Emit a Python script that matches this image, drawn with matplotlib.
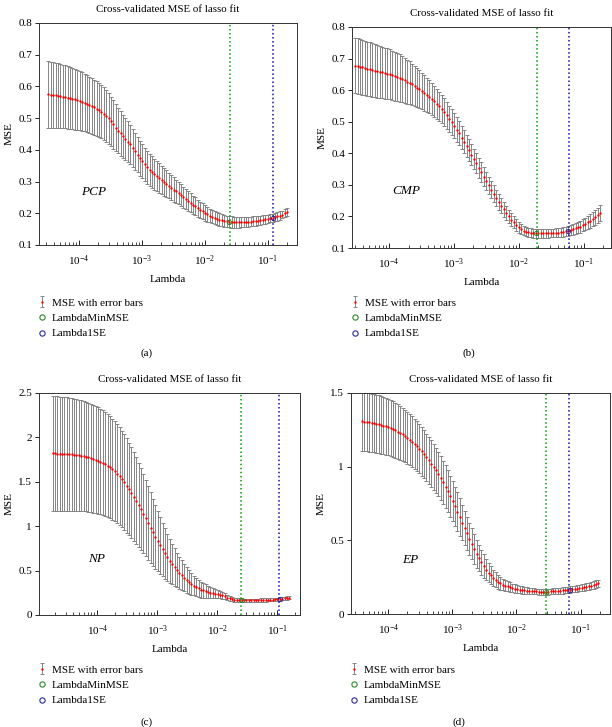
import matplotlib.pyplot as plt
import numpy as np
from matplotlib.ticker import LogLocator, FuncFormatter, NullFormatter, FixedLocator
from matplotlib.lines import Line2D

plt.rcParams['font.family'] = ['Liberation Serif', 'DejaVu Serif']
plt.rcParams['mathtext.fontset'] = 'stix'
plt.rcParams['font.size'] = 8

# ---- data ----
names = ['PCP', 'CMP', 'NP', 'EP']
captions = ['(a)', '(b)', '(c)', '(d)']
# lasso lambda grid: first / last lambda, 100 values each (geometric grid)
lambda_first = [3.3e-5, 3.0e-5, 1.8e-5, 3.9e-5]
lambda_last = [0.20, 0.18, 0.16, 0.19]
n_lambda = 100
lambda_min_mse = [0.025, 0.019, 0.025, 0.029]
lambda_1se = [0.12, 0.059, 0.108, 0.067]

mse_pcp = [0.575, 0.574, 0.573, 0.572, 0.571, 0.570, 0.568, 0.567, 0.565, 0.563,
           0.561, 0.559, 0.557, 0.555, 0.552, 0.549, 0.546, 0.542, 0.538, 0.534,
           0.530, 0.525, 0.520, 0.514, 0.507, 0.499, 0.490, 0.480, 0.470, 0.461,
           0.452, 0.443, 0.434, 0.426, 0.417, 0.407, 0.396, 0.385, 0.374, 0.364,
           0.354, 0.345, 0.337, 0.330, 0.323, 0.317, 0.311, 0.305, 0.299, 0.293,
           0.287, 0.281, 0.275, 0.269, 0.263, 0.257, 0.251, 0.245, 0.239, 0.233,
           0.227, 0.222, 0.216, 0.211, 0.206, 0.201, 0.197, 0.193, 0.189, 0.186,
           0.183, 0.180, 0.178, 0.176, 0.175, 0.174, 0.173, 0.172, 0.172, 0.172,
           0.172, 0.172, 0.173, 0.173, 0.174, 0.175, 0.176, 0.177, 0.178, 0.180,
           0.181, 0.183, 0.184, 0.186, 0.188, 0.190, 0.193, 0.196, 0.200, 0.205]
se_pcp = [0.105, 0.104, 0.104, 0.103, 0.102, 0.101, 0.100, 0.099, 0.098, 0.097,
          0.096, 0.095, 0.094, 0.093, 0.092, 0.091, 0.090, 0.089, 0.088, 0.087,
          0.086, 0.085, 0.084, 0.083, 0.082, 0.080, 0.078, 0.076, 0.074, 0.072,
          0.070, 0.068, 0.066, 0.064, 0.062, 0.060, 0.058, 0.056, 0.055, 0.054,
          0.053, 0.052, 0.051, 0.050, 0.049, 0.048, 0.046, 0.045, 0.043, 0.042,
          0.040, 0.039, 0.038, 0.036, 0.035, 0.034, 0.033, 0.032, 0.031, 0.030,
          0.029, 0.028, 0.027, 0.026, 0.025, 0.024, 0.023, 0.022, 0.021, 0.021,
          0.020, 0.020, 0.019, 0.019, 0.018, 0.018, 0.018, 0.017, 0.017, 0.017,
          0.016, 0.016, 0.016, 0.015, 0.015, 0.015, 0.015, 0.014, 0.014, 0.014,
          0.014, 0.013, 0.013, 0.013, 0.013, 0.013, 0.013, 0.012, 0.012, 0.012]

mse_cmp = [0.678, 0.676, 0.674, 0.672, 0.670, 0.668, 0.666, 0.664, 0.662, 0.660,
           0.658, 0.656, 0.654, 0.652, 0.650, 0.647, 0.644, 0.641, 0.638, 0.635,
           0.631, 0.627, 0.623, 0.618, 0.613, 0.608, 0.603, 0.597, 0.591, 0.585,
           0.579, 0.572, 0.565, 0.557, 0.549, 0.540, 0.530, 0.520, 0.509, 0.498,
           0.487, 0.475, 0.463, 0.450, 0.437, 0.424, 0.410, 0.396, 0.382, 0.368,
           0.354, 0.340, 0.326, 0.312, 0.298, 0.285, 0.272, 0.259, 0.246, 0.234,
           0.222, 0.211, 0.200, 0.190, 0.181, 0.173, 0.166, 0.160, 0.155, 0.152,
           0.150, 0.148, 0.147, 0.146, 0.146, 0.146, 0.146, 0.146, 0.146, 0.147,
           0.147, 0.148, 0.149, 0.150, 0.151, 0.153, 0.155, 0.157, 0.159, 0.162,
           0.165, 0.168, 0.172, 0.176, 0.181, 0.186, 0.191, 0.197, 0.203, 0.210]
se_cmp = [0.088, 0.088, 0.087, 0.087, 0.086, 0.086, 0.085, 0.085, 0.084, 0.084,
          0.083, 0.082, 0.081, 0.080, 0.079, 0.078, 0.077, 0.076, 0.075, 0.073,
          0.072, 0.070, 0.068, 0.066, 0.064, 0.062, 0.060, 0.058, 0.056, 0.054,
          0.052, 0.050, 0.049, 0.047, 0.046, 0.045, 0.044, 0.043, 0.042, 0.041,
          0.040, 0.039, 0.038, 0.037, 0.036, 0.035, 0.034, 0.034, 0.033, 0.032,
          0.031, 0.031, 0.030, 0.029, 0.028, 0.028, 0.027, 0.026, 0.025, 0.024,
          0.023, 0.022, 0.021, 0.020, 0.019, 0.018, 0.017, 0.016, 0.015, 0.015,
          0.014, 0.014, 0.014, 0.013, 0.013, 0.013, 0.013, 0.013, 0.013, 0.013,
          0.013, 0.014, 0.014, 0.014, 0.015, 0.015, 0.016, 0.016, 0.017, 0.017,
          0.018, 0.019, 0.019, 0.020, 0.021, 0.022, 0.022, 0.023, 0.024, 0.025]

mse_np = [1.820, 1.819, 1.818, 1.817, 1.816, 1.815, 1.813, 1.811, 1.809, 1.806,
          1.803, 1.799, 1.795, 1.790, 1.784, 1.777, 1.769, 1.760, 1.750, 1.739,
          1.727, 1.713, 1.698, 1.681, 1.662, 1.641, 1.618, 1.592, 1.563, 1.531,
          1.496, 1.458, 1.418, 1.376, 1.332, 1.286, 1.239, 1.190, 1.140, 1.089,
          1.037, 0.985, 0.933, 0.882, 0.832, 0.784, 0.738, 0.694, 0.652, 0.612,
          0.575, 0.540, 0.507, 0.476, 0.447, 0.420, 0.395, 0.372, 0.351, 0.332,
          0.315, 0.300, 0.287, 0.276, 0.267, 0.259, 0.252, 0.246, 0.241, 0.236,
          0.230, 0.222, 0.210, 0.197, 0.186, 0.178, 0.172, 0.168, 0.166, 0.165,
          0.165, 0.165, 0.165, 0.166, 0.166, 0.167, 0.167, 0.168, 0.169, 0.170,
          0.171, 0.172, 0.174, 0.176, 0.178, 0.180, 0.183, 0.186, 0.190, 0.195]
se_np = [0.645, 0.644, 0.643, 0.642, 0.641, 0.640, 0.638, 0.636, 0.634, 0.632,
         0.630, 0.627, 0.624, 0.621, 0.618, 0.614, 0.610, 0.606, 0.602, 0.598,
         0.594, 0.590, 0.585, 0.580, 0.575, 0.570, 0.564, 0.558, 0.552, 0.545,
         0.538, 0.530, 0.521, 0.511, 0.500, 0.488, 0.475, 0.461, 0.446, 0.430,
         0.413, 0.396, 0.378, 0.360, 0.341, 0.322, 0.303, 0.284, 0.265, 0.247,
         0.229, 0.212, 0.196, 0.181, 0.167, 0.154, 0.142, 0.131, 0.121, 0.112,
         0.104, 0.097, 0.090, 0.084, 0.078, 0.072, 0.066, 0.060, 0.054, 0.048,
         0.043, 0.038, 0.034, 0.030, 0.027, 0.025, 0.023, 0.022, 0.021, 0.020,
         0.020, 0.019, 0.019, 0.019, 0.018, 0.018, 0.018, 0.018, 0.018, 0.018,
         0.018, 0.018, 0.018, 0.018, 0.018, 0.018, 0.019, 0.019, 0.019, 0.020]

mse_ep = [1.308, 1.306, 1.304, 1.301, 1.298, 1.295, 1.292, 1.288, 1.284, 1.279,
          1.274, 1.268, 1.261, 1.254, 1.246, 1.238, 1.229, 1.219, 1.208, 1.196,
          1.183, 1.169, 1.154, 1.138, 1.121, 1.103, 1.084, 1.064, 1.043, 1.021,
          0.998, 0.974, 0.949, 0.922, 0.894, 0.864, 0.833, 0.800, 0.766, 0.731,
          0.695, 0.658, 0.621, 0.584, 0.547, 0.511, 0.476, 0.442, 0.410, 0.380,
          0.352, 0.326, 0.302, 0.281, 0.262, 0.245, 0.231, 0.219, 0.209, 0.200,
          0.193, 0.187, 0.182, 0.177, 0.173, 0.169, 0.166, 0.163, 0.160, 0.158,
          0.156, 0.155, 0.154, 0.153, 0.152, 0.152, 0.152, 0.152, 0.152, 0.153,
          0.154, 0.155, 0.156, 0.158, 0.160, 0.162, 0.164, 0.166, 0.168, 0.171,
          0.173, 0.176, 0.179, 0.182, 0.186, 0.189, 0.193, 0.198, 0.203, 0.208]
se_ep = [0.200, 0.200, 0.199, 0.199, 0.198, 0.198, 0.197, 0.196, 0.195, 0.194,
         0.193, 0.192, 0.190, 0.189, 0.187, 0.185, 0.183, 0.181, 0.179, 0.177,
         0.175, 0.173, 0.171, 0.169, 0.167, 0.165, 0.163, 0.161, 0.159, 0.157,
         0.155, 0.153, 0.151, 0.149, 0.147, 0.145, 0.142, 0.139, 0.136, 0.133,
         0.130, 0.126, 0.122, 0.118, 0.114, 0.110, 0.105, 0.100, 0.095, 0.090,
         0.085, 0.079, 0.073, 0.067, 0.061, 0.056, 0.051, 0.047, 0.043, 0.040,
         0.037, 0.034, 0.032, 0.030, 0.028, 0.026, 0.025, 0.024, 0.023, 0.022,
         0.021, 0.021, 0.020, 0.020, 0.020, 0.020, 0.020, 0.020, 0.020, 0.020,
         0.020, 0.020, 0.020, 0.021, 0.021, 0.021, 0.021, 0.022, 0.022, 0.022,
         0.022, 0.023, 0.023, 0.023, 0.024, 0.024, 0.024, 0.025, 0.025, 0.025]

mse_all = [mse_pcp, mse_cmp, mse_np, mse_ep]
se_all = [se_pcp, se_cmp, se_np, se_ep]
yticks_all = [[0.1, 0.2, 0.3, 0.4, 0.5, 0.6, 0.7, 0.8],
              [0.1, 0.2, 0.3, 0.4, 0.5, 0.6, 0.7, 0.8],
              [0, 0.5, 1, 1.5, 2, 2.5],
              [0, 0.5, 1, 1.5]]

# ---- layout ----
W, H = 612, 727
boxes = [(39, 297, 23, 245), (352, 611, 27, 248), (39, 300, 393, 615), (351, 610, 393, 614)]
xlims = [(10**-4.63, 10**-0.54), (10**-4.57, 10**-0.58), (10**-4.97, 10**-0.62), (10**-4.58, 10**-0.54)]
name_pos = [(0.21, 0.24), (0.21, 0.26), (0.22, 0.25), (0.23, 0.245)]
caption_pos = [(147, 353), (469, 353), (147, 722), (459, 722)]

fig = plt.figure(figsize=(W / 100, H / 100), dpi=100)
grey = '#858585'

for k in range(4):
    l, r, t, b = boxes[k]
    ax = fig.add_axes([l / W, (H - b) / H, (r - l) / W, (b - t) / H])
    lam = np.geomspace(lambda_first[k], lambda_last[k], n_lambda)
    mse = np.array(mse_all[k])
    se = np.array(se_all[k])

    eb = ax.errorbar(lam, mse, yerr=se, fmt='.', color='red', ms=1.4,
                     ecolor=grey, elinewidth=0.7, capsize=1.3, capthick=0.7, zorder=2)
    ax.axvline(lambda_min_mse[k], color='#00a000', ls=':', lw=1.1, zorder=3)
    ax.axvline(lambda_1se[k], color='#1010a0', ls=':', lw=1.1, zorder=3)
    i_min = np.argmin(np.abs(np.log(lam) - np.log(lambda_min_mse[k])))
    i_1se = np.argmin(np.abs(np.log(lam) - np.log(lambda_1se[k])))
    ax.plot(lam[i_min], mse[i_min], 'o', mfc='none', mec='#2a8a2a', ms=3, mew=0.7, zorder=4)
    ax.plot(lam[i_1se], mse[i_1se], 'o', mfc='none', mec='#2a2a9a', ms=3, mew=0.7, zorder=4)

    ax.set_xscale('log')
    ax.set_xlim(*xlims[k])
    yt = yticks_all[k]
    ax.set_ylim(yt[0], yt[-1])
    ax.yaxis.set_major_locator(FixedLocator(yt))
    ax.yaxis.set_major_formatter(FuncFormatter(lambda v, p: '%g' % v))
    ax.xaxis.set_major_locator(LogLocator(base=10, numticks=10))
    ax.xaxis.set_minor_locator(LogLocator(base=10, subs=np.arange(2, 10), numticks=10))
    ax.xaxis.set_minor_formatter(NullFormatter())
    ax.tick_params(axis='x', which='major', direction='in', length=3.5, width=0.6, pad=6,
                   labelsize=8)
    ax.tick_params(axis='x', which='minor', direction='in', length=2, width=0.5)
    ax.tick_params(axis='y', which='major', direction='out', length=3, width=0.6, pad=2,
                   labelsize=8)
    for s in ax.spines.values():
        s.set_color('#333333')
        s.set_linewidth(0.7)

    ax.set_title('Cross-validated MSE of lasso fit', fontsize=7.8, pad=8)
    ax.set_xlabel('Lambda', labelpad=5)
    ax.set_ylabel('MSE', labelpad=3)
    ax.text(name_pos[k][0], name_pos[k][1], names[k], transform=ax.transAxes,
            fontsize=9.5, style='italic', ha='center', va='center')

    green = Line2D([], [], marker='o', ls='none', mfc='none', mec='#2a8a2a', ms=3.8, mew=0.8)
    blue = Line2D([], [], marker='o', ls='none', mfc='none', mec='#2a2a9a', ms=3.8, mew=0.8)
    top_px = 298 if k < 2 else 665
    ax.legend([eb, green, blue], ['MSE with error bars', 'LambdaMinMSE', 'Lambda1SE'],
              loc='upper left', bbox_to_anchor=(-0.004, (b - top_px) / (b - t)),
              frameon=False, handlelength=0.8, handletextpad=0.45,
              borderpad=0, borderaxespad=0, labelspacing=0.5, fontsize=8)

    cx, cy = caption_pos[k]
    fig.text(cx / W, 1 - cy / H, captions[k], ha='center', va='center', fontsize=8)

fig.savefig('out.png', dpi=100)
